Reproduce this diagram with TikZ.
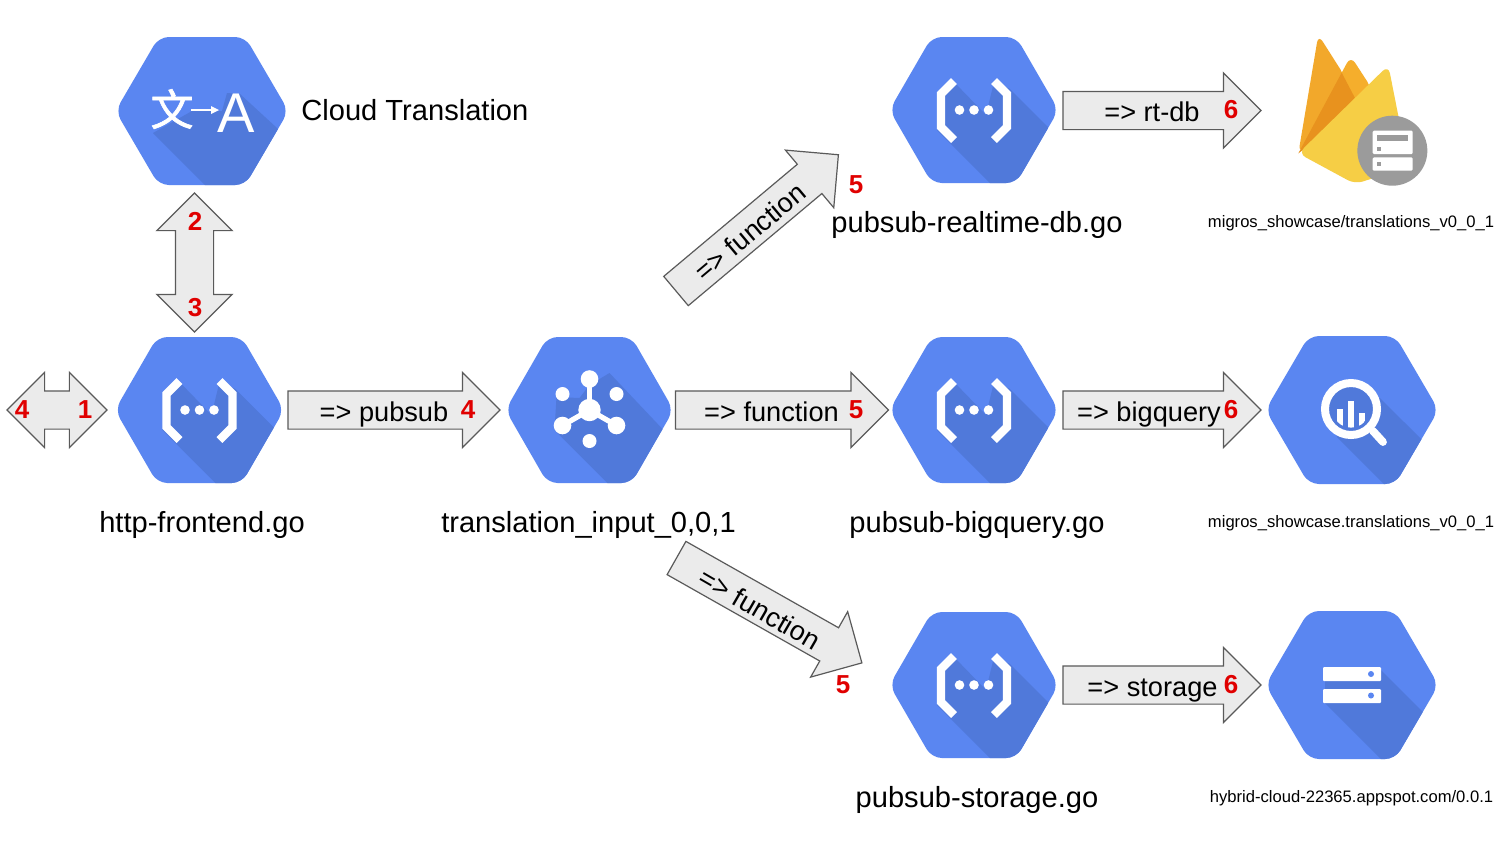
\documentclass[tikz,border=0pt]{standalone}
\usepackage{fontspec}
\setmainfont{Liberation Sans}
\newfontfamily\cjkfont[FakeBold=1.5]{Noto Sans CJK SC}
\usetikzlibrary{shapes.arrows}
\definecolor{hexblue}{HTML}{5A86F1}
\definecolor{hexshade}{HTML}{5079DA}
\definecolor{arrowfill}{HTML}{EBEBEB}
\definecolor{arrowline}{HTML}{5A5A5A}
\definecolor{numred}{HTML}{E00000}
\definecolor{fbgray}{HTML}{9B9B9B}
\definecolor{fbamber}{HTML}{F2A82B}
\definecolor{fbmid}{HTML}{F5AE2C}
\definecolor{fbdark}{HTML}{E8921E}
\definecolor{fbyellow}{HTML}{F6CE45}
\newcommand{\hexpath}[2]{(-#1,0) -- (-#1/2,-#2) -- (#1/2,-#2) -- (#1,0) -- (#1/2,#2) -- (-#1/2,#2) -- cycle}
% half width, half height, shadow polygon
\newcommand{\hexbase}[3]{%
  \fill[hexblue,rounded corners=5pt] \hexpath{#1}{#2};
  \begin{scope}
    \clip[rounded corners=5pt] \hexpath{#1}{#2};
    \fill[hexshade] #3;
  \end{scope}}
\newcommand{\fnicon}[2]{%
  \begin{scope}[shift={(#1,#2)}]
    \hexbase{84.5}{73}{(-37,20) -- (-33,-15) -- (-20,-28) -- (12,5) -- (20,-28) -- (36,-21) -- (90,33) -- (90,90) -- (33,90) -- cycle}
    \draw[white,line width=4.2pt,miter limit=4] (-20,-29) -- (-33,-16) -- (-33,17) -- (-20,30);
    \draw[white,line width=4.2pt,miter limit=4] (20,-29) -- (33,-16) -- (33,17) -- (20,30);
    \foreach \dx in {-14.5,0,14.5} \fill[white] (\dx,0) circle (2.4pt);
  \end{scope}}
\tikzset{
  x=0.5pt,y=-0.5pt,
  blockarrow/.style={single arrow,draw=arrowline,fill=arrowfill,line width=0.6pt,inner xsep=0pt,inner ysep=9.25pt,outer sep=0pt,
    single arrow head extend=9.25pt,single arrow head indent=0pt,minimum width=37pt,minimum height=#1*0.5pt},
  blockdouble/.style={double arrow,draw=arrowline,fill=arrowfill,line width=0.6pt,inner xsep=0pt,inner ysep=9.25pt,outer sep=0pt,
    double arrow head extend=9.25pt,double arrow head indent=0pt,minimum width=37pt,minimum height=#1*0.5pt},
  biglabel/.style={inner sep=0pt,font=\fontsize{14.55}{18}\selectfont,text=black},
  arrowlabel/.style={inner sep=0pt,font=\fontsize{13.6}{17}\selectfont,text=black},
  smalllabel/.style={inner sep=0pt,font=\fontsize{8.3}{10}\selectfont,text=black},
  numlabel/.style={inner sep=0pt,font=\fontsize{13}{15}\selectfont\bfseries,text=numred},
}
\begin{document}
\begin{tikzpicture}
\path[use as bounding box,fill=white] (0,0) rectangle (1500,843);

% Cloud Translation
\begin{scope}[shift={(202,111)}]
  \hexbase{86.5}{74}{(-49,22) -- (-10,0) -- (20,0) -- (25,-18) -- (38,-17) -- (75,17) -- (100,42) -- (100,100) -- (29,100) -- cycle}
  \node[inner sep=0pt,text=white,font=\fontsize{21.5}{22}\selectfont\cjkfont] (wen) at (-30,-2) {文};
  \node[inner sep=0pt,text=white,font=\fontsize{28}{28}\selectfont] (latina) at (34,2) {A};
  \draw[white,line width=0.8pt] (-11,-1) -- (13,-1);
  \fill[white] (17,-1) -- (9,-5) -- (9,3) -- cycle;
\end{scope}

% Functions
\fnicon{199.5}{410}
\fnicon{974}{110}
\fnicon{974}{410}
\fnicon{974}{685}

% Pub/Sub
\begin{scope}[shift={(589.5,410)}]
  \hexbase{84}{73}{(-35,20) -- (-33,-13) -- (-10,-12) -- (0,-25) -- (20,-37) -- (90,37) -- (90,90) -- (35,90) -- cycle}
  \fill[white] (0,0) circle (5.6pt);
  \fill[white] (0,-31) circle (4.4pt);
  \fill[white] (-27,-16) circle (3.5pt);
  \fill[white] (27,-16) circle (3.5pt);
  \fill[white] (0,31) circle (3.5pt);
  \fill[white] (-27,15.5) circle (4.4pt);
  \fill[white] (27,15.5) circle (4.4pt);
  \draw[white,line width=2.6pt] (0,-31) -- (0,0);
  \draw[white,line width=2.6pt] (-27,15.5) -- (0,0);
  \draw[white,line width=2.6pt] (27,15.5) -- (0,0);
\end{scope}

% BigQuery
\begin{scope}[shift={(1352,410)}]
  \hexbase{86.5}{74}{(-15,27) -- (-25,-5) -- (28,-12) -- (100,60) -- (100,100) -- (58,100) -- cycle}
  \fill[hexshade] (-1,-1) circle (13pt);
  \draw[white,line width=3.9pt,line cap=round] (21,21) -- (31,32);
  \draw[white,line width=4pt] (-1,-1) circle (13pt);
  \begin{scope}
    \clip (-1,-1) circle (9.3pt);
    \fill[white] (-15,-1) rectangle (-9.5,30);
    \fill[white] (-4,-9) rectangle (2,30);
    \fill[white] (7,3) rectangle (13,30);
  \end{scope}
\end{scope}

% Storage
\begin{scope}[shift={(1352,685)}]
  \hexbase{86.5}{74}{(-27,18) -- (-27,-15) -- (29,-15) -- (100,56) -- (100,100) -- (55,100) -- cycle}
  \fill[white,rounded corners=0.5pt] (-29,-18) rectangle (29,-4);
  \fill[white,rounded corners=0.5pt] (-29,4) rectangle (29,18);
  \fill[hexblue] (19,-11) circle (1.5pt);
  \fill[hexblue] (19,10.5) circle (1.5pt);
\end{scope}

% Firebase
\begin{scope}[shift={(1280,20)},x=0.1667pt,y=-0.1667pt]
  \fill[fbmid,rounded corners=4pt] (55,400) -- (212,108) -- (275,205) -- (240,300) -- cycle;
  \fill[fbamber,rounded corners=4pt] (55,400) -- (115,44) -- (195,170) -- (120,340) -- cycle;
  \fill[fbdark] (55,400) -- (185,158) -- (228,240) -- (150,330) -- cycle;
  \fill[fbyellow,rounded corners=4pt] (55,400) -- (325,136) -- (385,440) -- (225,492) -- cycle;
  \fill[fbgray] (337,392) circle (17.5pt);
  \fill[white,rounded corners=0.6pt] (278,332) rectangle (398,402);
  \fill[white,rounded corners=0.6pt] (278,412) rectangle (398,452);
  \fill[fbgray] (290,345) rectangle (385,362);
  \fill[fbgray] (290,380) rectangle (303,392);
  \fill[fbgray] (290,425) rectangle (303,437);
\end{scope}

% Block arrows
\node[blockdouble=100] (clientarrow) at (57,410) {};
\node[blockdouble=139,rotate=90] (translatearrow) at (194.5,262.5) {};
\node[blockarrow=212,anchor=tail] (pubsubarrow) at (288,410) {};
\node[blockarrow=213,anchor=tail] (functionarrow) at (675.5,410) {};
\node[blockarrow=198,anchor=tail] (bigqueryarrow) at (1063,410) {};
\node[blockarrow=198,anchor=tail] (rtdbarrow) at (1063,110.5) {};
\node[blockarrow=198,anchor=tail] (storagearrow) at (1063,685) {};
\node[blockarrow=212,anchor=tail,rotate=40] (uparrow) at (676,291) {};
\node[blockarrow=213,anchor=tail,rotate=-29.5] (downarrow) at (676.5,558) {};

% Arrow labels
\node[arrowlabel,anchor=base] (l1) at (384,421) {=> pubsub};
\node[arrowlabel,anchor=base] (l2) at (771.5,421) {=> function};
\node[arrowlabel,anchor=base] (l3) at (1149,421) {=> bigquery};
\node[arrowlabel,anchor=base] (l4) at (1152,121) {=> rt-db};
\node[arrowlabel,anchor=base] (l5) at (1152.5,696) {=> storage};
\node[arrowlabel,rotate=40] (l6) at (750,232) {=> function};
\node[arrowlabel,rotate=-30] (l7) at (760,609) {=> function};

% Big labels
\node[biglabel,anchor=west] (t1) at (301,110) {Cloud Translation};
\node[biglabel] (t2) at (977,225) {pubsub-realtime-db.go};
\node[biglabel] (t3) at (202,525) {http-frontend.go};
\node[biglabel] (t4) at (588.5,525) {translation\_input\_0,0,1};
\node[biglabel] (t5) at (977,525) {pubsub-bigquery.go};
\node[biglabel] (t6) at (977,800) {pubsub-storage.go};

% Small labels
\node[smalllabel] (s1) at (1351,223) {migros\_showcase/translations\_v0\_0\_1};
\node[smalllabel] (s2) at (1351,523) {migros\_showcase.translations\_v0\_0\_1};
\node[smalllabel] (s3) at (1351.5,798) {hybrid-cloud-22365.appspot.com/0.0.1};

% Numbers
\node[numlabel] (n1) at (22,410) {4};
\node[numlabel] (n2) at (85,410) {1};
\node[numlabel] (n3) at (195,221) {2};
\node[numlabel] (n4) at (195,308) {3};
\node[numlabel] (n5) at (468,410) {4};
\node[numlabel] (n6) at (856,410) {5};
\node[numlabel] (n7) at (1231,410) {6};
\node[numlabel] (n8) at (1231,110) {6};
\node[numlabel] (n9) at (856,185) {5};
\node[numlabel] (n10) at (843,685) {5};
\node[numlabel] (n11) at (1231,685) {6};
\end{tikzpicture}
\end{document}
